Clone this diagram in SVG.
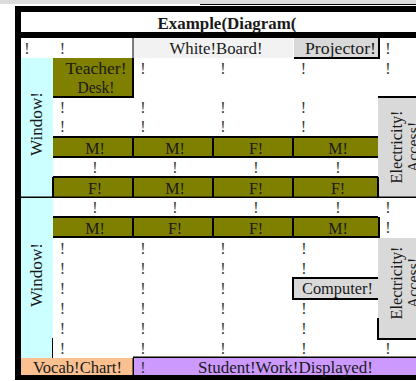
<svg xmlns="http://www.w3.org/2000/svg" width="416" height="381" viewBox="0 0 416 381">
<style>
text{font-family:"Liberation Serif","Times New Roman",serif;font-size:16px;fill:#1a1a1a}
.c{text-anchor:middle}
.b{font-weight:bold}
.ol{fill:#808000}
.cy{fill:#ccffff}
.gr{fill:#d9d9d9}
.k{fill:#000}
#marks{opacity:0.99}
#marks text{fill:#333}
</style>
<rect width="416" height="381" fill="#fff"/>
<rect width="416" height="4" fill="#dcdcdc"/>
<g id="frame">
<rect class="k" x="200" y="4" width="216" height="1"/>
<rect class="k" x="15" y="6" width="401" height="6"/>
<rect class="k" x="15" y="6" width="6" height="374"/>
<rect class="k" x="15" y="32" width="401" height="6"/>
<rect class="k" x="15" y="375" width="401" height="5"/>
</g>
<g id="title"><text class="c b" x="227" y="29" textLength="139" lengthAdjust="spacingAndGlyphs">Example(Diagram(</text></g>
<g id="whiteboard">
<rect x="133" y="38" width="160" height="20" fill="#f2f2f2"/>
<text class="c" x="216" y="54" textLength="93" lengthAdjust="spacingAndGlyphs">White!Board!</text>
</g>
<g id="projector">
<rect class="gr" x="294" y="38" width="84" height="19"/>
<text class="c" x="340.5" y="54" textLength="71" lengthAdjust="spacingAndGlyphs">Projector!</text>
</g>
<g id="window1">
<rect class="cy" x="21" y="58" width="32" height="139"/>
<text class="c" transform="translate(42,124) rotate(-90)" textLength="64" lengthAdjust="spacingAndGlyphs">Window!</text>
</g>
<g id="window2">
<rect class="cy" x="21" y="198" width="32" height="161"/>
<text class="c" transform="translate(42,275) rotate(-90)" textLength="64" lengthAdjust="spacingAndGlyphs">Window!</text>
</g>
<g id="teacher-desk">
<rect class="ol" x="53" y="58" width="80" height="39"/>
<text class="c" x="96" y="74" textLength="61" lengthAdjust="spacingAndGlyphs">Teacher!</text>
<text class="c" x="96" y="92.5" textLength="37" lengthAdjust="spacingAndGlyphs">Desk!</text>
</g>
<g id="electricity1">
<rect class="gr" x="378" y="97" width="38" height="100"/>
<text class="c" transform="translate(402,147) rotate(-90)" textLength="73" lengthAdjust="spacingAndGlyphs">Electricity!</text>
<text class="c" transform="translate(419,147) rotate(-90)">Access!</text>
</g>
<g id="electricity2">
<rect class="gr" x="378" y="238" width="38" height="101"/>
<text class="c" transform="translate(402,283) rotate(-90)" textLength="73" lengthAdjust="spacingAndGlyphs">Electricity!</text>
<text class="c" transform="translate(419,283) rotate(-90)">Access!</text>
</g>
<g id="seats-row1">
<rect class="ol" x="53" y="137" width="325" height="20"/>
<text class="c" x="95" y="154">M!</text><text class="c" x="175" y="154">M!</text><text class="c" x="256" y="154">F!</text><text class="c" x="338" y="154">M!</text>
</g>
<g id="seats-row2">
<rect class="ol" x="53" y="177" width="325" height="20"/>
<text class="c" x="95" y="194">F!</text><text class="c" x="175" y="194">M!</text><text class="c" x="256" y="194">F!</text><text class="c" x="338" y="194">F!</text>
</g>
<g id="seats-row3">
<rect class="ol" x="53" y="217" width="325" height="20"/>
<text class="c" x="95" y="233.5">M!</text><text class="c" x="175" y="233.5">F!</text><text class="c" x="256" y="233.5">F!</text><text class="c" x="338" y="233.5">M!</text>
</g>
<g id="computer">
<rect class="gr" x="293" y="278" width="85" height="21"/>
<text class="c" x="337.5" y="294" textLength="71" lengthAdjust="spacingAndGlyphs">Computer!</text>
</g>
<g id="vocab-chart">
<rect x="21" y="358" width="112" height="17" fill="#fac090"/>
<text class="c" x="77.5" y="373" textLength="89" lengthAdjust="spacingAndGlyphs">Vocab!Chart!</text>
</g>
<g id="student-work">
<rect x="134" y="358" width="282" height="17" fill="#cc99ff"/>
<text class="c" x="285.5" y="373" textLength="175" lengthAdjust="spacingAndGlyphs">Student!Work!Displayed!</text>
</g>
<g id="connectors">
<rect class="k" x="132.5" y="38" width="1" height="20"/>
<rect class="k" x="294" y="57" width="86" height="2"/>
<rect class="k" x="378" y="38" width="2" height="21"/>
<rect class="k" x="132" y="58" width="2" height="40"/>
<rect class="k" x="53" y="96" width="81" height="2"/>
<rect class="k" x="378" y="96" width="38" height="2"/>
<rect class="k" x="53" y="136" width="325" height="2"/>
<rect class="k" x="53" y="156" width="325" height="2"/>
<rect class="k" x="53" y="176" width="325" height="2"/>
<rect class="k" x="21" y="196.5" width="395" height="1.5"/>
<rect class="k" x="53" y="216" width="325" height="2"/>
<rect class="k" x="53" y="236" width="327" height="2"/>
<rect class="k" x="132" y="137" width="2" height="20"/>
<rect class="k" x="212" y="137" width="2" height="20"/>
<rect class="k" x="292" y="137" width="2" height="20"/>
<rect class="k" x="52" y="177" width="2" height="20"/>
<rect class="k" x="132" y="177" width="2" height="20"/>
<rect class="k" x="212" y="177" width="2" height="20"/>
<rect class="k" x="292" y="177" width="2" height="20"/>
<rect class="k" x="377" y="177" width="2" height="20"/>
<rect class="k" x="132" y="217" width="2" height="20"/>
<rect class="k" x="212" y="217" width="2" height="20"/>
<rect class="k" x="292" y="217" width="2" height="20"/>
<rect class="k" x="378" y="217" width="2" height="21"/>
<rect class="k" x="293" y="277" width="85" height="2"/>
<rect class="k" x="292" y="277" width="2" height="23"/>
<rect class="k" x="293" y="298" width="85" height="2"/>
<rect class="k" x="377" y="318" width="2" height="22"/>
<rect class="k" x="377" y="338" width="39" height="2"/>
<rect class="k" x="52" y="338" width="1" height="20"/>
<rect class="k" x="133" y="356.5" width="283" height="1.5"/>
<rect class="k" x="132.5" y="358" width="1.5" height="17"/>
</g>
<g id="marks" class="c">
<text x="27" y="54">!</text><text x="62.5" y="54">!</text><text x="388" y="54">!</text>
<text x="143" y="74">!</text><text x="223" y="74">!</text><text x="303.5" y="74">!</text><text x="388" y="74">!</text>
<text x="62.5" y="112.5">!</text><text x="143" y="112.5">!</text><text x="223" y="112.5">!</text><text x="303.5" y="112.5">!</text>
<text x="62.5" y="131.5">!</text><text x="143" y="131.5">!</text><text x="223" y="131.5">!</text><text x="303.5" y="131.5">!</text>
<text x="95" y="173">!</text><text x="175" y="173">!</text><text x="256" y="173">!</text><text x="338" y="173">!</text>
<text x="95" y="213">!</text><text x="175" y="213">!</text><text x="256" y="213">!</text><text x="338" y="213">!</text><text x="388" y="213">!</text>
<text x="388" y="233">!</text>
<text x="62.5" y="253.5">!</text><text x="143" y="253.5">!</text><text x="223" y="253.5">!</text><text x="304" y="253.5">!</text>
<text x="62.5" y="273.5">!</text><text x="143" y="273.5">!</text><text x="223" y="273.5">!</text><text x="304" y="273.5">!</text>
<text x="62.5" y="294">!</text><text x="143" y="294">!</text><text x="223" y="294">!</text>
<text x="62.5" y="314">!</text><text x="143" y="314">!</text><text x="223" y="314">!</text><text x="304" y="314">!</text>
<text x="62.5" y="333.5">!</text><text x="143" y="333.5">!</text><text x="223" y="333.5">!</text><text x="304" y="333.5">!</text>
<text x="62.5" y="353.5">!</text><text x="143" y="353.5">!</text><text x="223" y="353.5">!</text><text x="304" y="353.5">!</text><text x="388" y="353.5">!</text>
<text x="143" y="373">!</text>
</g>
</svg>
